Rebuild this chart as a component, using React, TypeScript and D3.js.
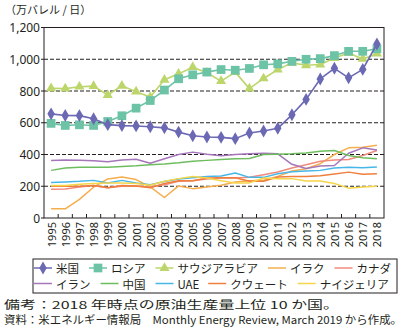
import React from "react";
import * as d3 from "d3";

const years = ["1995","1996","1997","1998","1999","2000","2001","2002","2003","2004","2005","2006","2007","2008","2009","2010","2011","2012","2013","2014","2015","2016","2017","2018"];
const yTicks = [0, 200, 400, 600, 800, 1000, 1200];
const yTickLabels = ["0", "200", "400", "600", "800", "1,000", "1,200"];

const usValues = [656,646,645,625,588,582,580,575,568,541,518,510,508,500,535,548,565,650,747,876,943,883,936,1096];
const russiaValues = [596,583,587,583,608,644,692,740,806,877,902,919,935,931,942,965,971,987,1000,1004,1023,1050,1050,1066];
const saudiValues = [817,815,827,831,775,833,796,762,871,908,950,915,862,919,815,879,935,977,962,967,1008,1040,1002,1035];
const iraqValues = [58,58,117,194,246,258,242,196,129,202,185,196,206,227,235,238,262,296,310,342,400,442,446,458];
const canadaValues = [181,183,196,204,190,200,202,196,210,231,235,246,252,252,256,273,290,315,335,358,366,368,394,425];
const iranValues = [362,366,364,360,354,366,370,345,373,400,415,402,392,400,404,408,404,338,312,327,331,408,442,428];
const chinaValues = [300,315,320,320,320,325,329,335,340,348,358,363,369,373,375,400,402,404,410,421,425,394,379,373];
const uaeValues = [223,227,231,237,221,237,221,210,230,246,254,262,265,283,256,256,279,292,296,300,315,320,316,322];
const kuwaitValues = [200,200,200,204,190,204,202,190,217,235,235,252,254,254,231,231,258,262,262,266,277,289,276,279];
const nigeriaValues = [204,204,212,217,221,221,217,206,231,248,262,252,235,221,221,252,248,248,233,233,217,188,196,200];

const seriesNames = ["米国","ロシア","サウジアラビア","イラク","カナダ","イラン","中国","UAE","クウェート","ナイジェリア"];
const seriesValues = [usValues, russiaValues, saudiValues, iraqValues, canadaValues, iranValues, chinaValues, uaeValues, kuwaitValues, nigeriaValues];

const yTitle = "（万バレル / 日）";
const note1 = "備考：2018 年時点の原油生産量上位 10 か国。";
const note2 = "資料：米エネルギー情報局　Monthly Energy Review, March 2019 から作成。";

const styles = [
  { color: "#6b68b4", marker: "diamond", width: 1.6 },
  { color: "#6cc3a6", marker: "square", width: 1.6 },
  { color: "#bcd66c", marker: "triangle", width: 1.6 },
  { color: "#f5ae4c", marker: null, width: 1.5 },
  { color: "#f08a7b", marker: null, width: 1.5 },
  { color: "#a576ba", marker: null, width: 1.5 },
  { color: "#6dbd5e", marker: null, width: 1.5 },
  { color: "#47b7e8", marker: null, width: 1.5 },
  { color: "#ef7f3d", marker: null, width: 1.5 },
  { color: "#f5d54a", marker: null, width: 1.5 },
];

const JP = "'Noto Sans CJK JP', 'Noto Sans', sans-serif";
const LAT = "'Noto Sans', 'Noto Sans CJK JP', sans-serif";

const plot = { left: 44, right: 384, top: 27.5, bottom: 218 };

function markerPath(kind: string | null) {
  if (kind === "diamond") return d3.symbol(d3.symbolDiamond, 48)()!;
  if (kind === "square") return d3.symbol(d3.symbolSquare, 76)()!;
  if (kind === "triangle") return d3.symbol(d3.symbolTriangle, 44)()!;
  return null;
}

function textWidth(s: string, fs: number) {
  let w = 0;
  for (const ch of s) {
    const c = ch.codePointAt(0)!;
    w += c > 0x2000 ? fs : fs * 0.6;
  }
  return w;
}

export default function App() {
  const x = d3.scalePoint<string>().domain(years).range([plot.left, plot.right]).padding(0.5);
  const y = d3.scaleLinear().domain([0, 1200]).range([plot.bottom, plot.top]);
  const step = x.step();
  const line = d3
    .line<number>()
    .x((_, i) => x(years[i])!)
    .y((d) => y(d));

  const drawOrder = [3, 4, 5, 6, 7, 8, 9, 2, 1, 0];

  // legend layout
  const legFs = 11.5;
  const rows = [[0, 1, 2, 3, 4], [5, 6, 7, 8, 9]];
  const legendItems: { idx: number; x: number; y: number }[] = [];
  rows.forEach((row, r) => {
    let cx = 34;
    row.forEach((idx) => {
      legendItems.push({ idx, x: cx, y: 268 + r * 15.5 });
      cx += 22 + textWidth(seriesNames[idx], legFs) + 10;
    });
  });

  return (
    <svg
      width={406}
      height={331}
      style={{ position: "absolute", left: 0, top: 0, background: "#fff" }}
    >
      <rect x={0} y={0} width={406} height={331} fill="#fff" />
      <text x={5} y={14} fontFamily={JP} fontSize={11} fill="#231f20">
        {yTitle}
      </text>

      {/* gridlines */}
      {yTicks
        .filter((t) => t > 0 && t < 1200)
        .map((t) => (
          <line
            key={"g" + t}
            x1={plot.left}
            x2={plot.right}
            y1={y(t)}
            y2={y(t)}
            stroke="#231f20"
            strokeWidth={1}
            strokeDasharray="4 2"
          />
        ))}

      {/* frame */}
      <rect
        x={plot.left}
        y={plot.top}
        width={plot.right - plot.left}
        height={plot.bottom - plot.top}
        fill="none"
        stroke="#231f20"
        strokeWidth={1}
      />

      {/* y ticks */}
      {yTicks.map((t, i) => (
        <g key={"yt" + t}>
          <line x1={plot.left - 3} x2={plot.left} y1={y(t)} y2={y(t)} stroke="#231f20" />
          <text
            x={plot.left - 4}
            y={y(t)}
            textAnchor="end"
            dominantBaseline="central"
            fontFamily={LAT}
            fontSize={12}
            fill="#231f20"
          >
            {yTickLabels[i]}
          </text>
        </g>
      ))}

      {/* x ticks */}
      {years.slice(1).map((yr) => {
        const bx = x(yr)! - step / 2;
        return (
          <line key={"xt" + yr} x1={bx} x2={bx} y1={plot.bottom} y2={plot.bottom - 4} stroke="#231f20" />
        );
      })}
      {years.map((yr) => (
        <text
          key={"xl" + yr}
          transform={`translate(${x(yr)},${plot.bottom + 4}) rotate(-90)`}
          textAnchor="end"
          dominantBaseline="central"
          fontFamily={LAT}
          fontSize={11}
          fill="#231f20"
        >
          {yr}
        </text>
      ))}

      {/* series */}
      {drawOrder.map((idx) => {
        const st = styles[idx];
        const vals = seriesValues[idx];
        const mp = markerPath(st.marker);
        return (
          <g key={"s" + idx}>
            <path d={line(vals)!} fill="none" stroke={st.color} strokeWidth={st.width} strokeLinejoin="round" />
            {mp &&
              vals.map((v, i) => (
                <path
                  key={i}
                  d={mp}
                  transform={`translate(${x(years[i])},${y(v)})`}
                  fill={st.color}
                  stroke="none"
                />
              ))}
          </g>
        );
      })}

      {/* legend */}
      <rect x={33} y={259} width={364} height={34} fill="none" stroke="#231f20" strokeWidth={1} />
      {legendItems.map(({ idx, x: lx, y: ly }) => {
        const st = styles[idx];
        const mp = markerPath(st.marker);
        return (
          <g key={"l" + idx}>
            <line x1={lx} x2={lx + 18} y1={ly} y2={ly} stroke={st.color} strokeWidth={1.5} />
            {mp && <path d={mp} transform={`translate(${lx + 9},${ly})`} fill={st.color} />}
            <text
              x={lx + 22}
              y={ly}
              dominantBaseline="central"
              fontFamily={JP}
              fontSize={legFs}
              fill="#231f20"
            >
              {seriesNames[idx]}
            </text>
          </g>
        );
      })}

      {/* notes */}
      <text x={4} y={309} fontFamily={JP} fontSize={11} fill="#231f20" textLength={335} lengthAdjust="spacingAndGlyphs">
        {note1}
      </text>
      <text x={4} y={324} fontFamily={JP} fontSize={11} fill="#231f20" textLength={398} lengthAdjust="spacingAndGlyphs">
        {note2}
      </text>
    </svg>
  );
}
